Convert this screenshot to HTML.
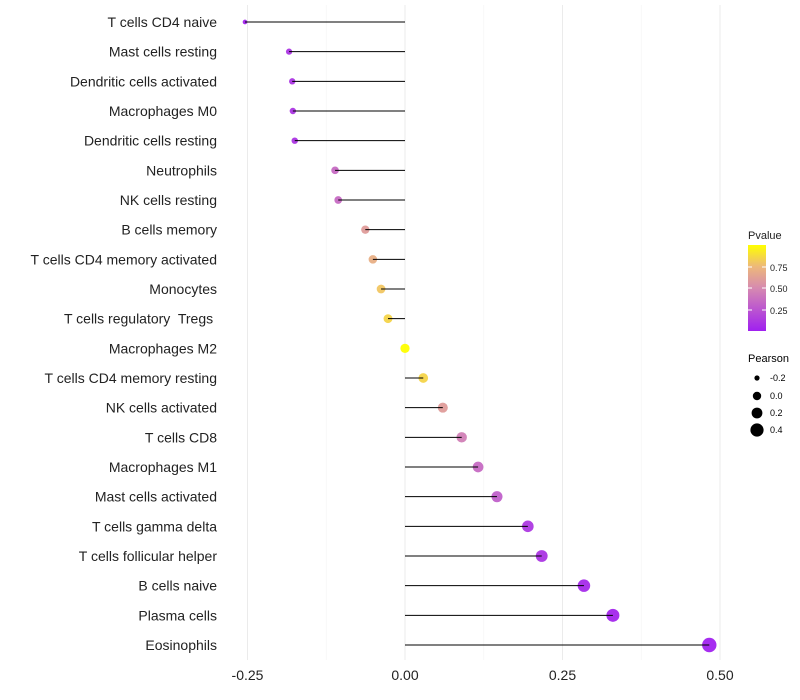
<!DOCTYPE html>
<html><head><meta charset="utf-8"><style>
body{margin:0;background:#fff;font-family:"Liberation Sans",sans-serif}
svg{display:block}
text{white-space:pre}
</style></head><body>
<svg id="c" width="800" height="700">
<defs><linearGradient id="pg" x1="0" y1="1" x2="0" y2="0">
<stop offset="0" stop-color="#A020F0"/><stop offset="0.5" stop-color="#D68AB0"/><stop offset="0.75" stop-color="#EDB87A"/><stop offset="1" stop-color="#FFFF00"/></linearGradient></defs>
<g id="grid"></g><g id="dots"></g><g id="stems"></g><g id="labels"></g>
<g font-size="10" fill="#222">
<text x="748" y="239" font-size="11">Pvalue</text>
<rect x="748" y="245" width="18" height="86" fill="url(#pg)"/>
<line x1="748" y1="267" x2="752" y2="267" stroke="#fff"/><line x1="762" y1="267" x2="766" y2="267" stroke="#fff"/>
<line x1="748" y1="288" x2="752" y2="288" stroke="#fff"/><line x1="762" y1="288" x2="766" y2="288" stroke="#fff"/>
<line x1="748" y1="310" x2="752" y2="310" stroke="#fff"/><line x1="762" y1="310" x2="766" y2="310" stroke="#fff"/>
<text x="770" y="271" font-size="9">0.75</text><text x="770" y="292" font-size="9">0.50</text><text x="770" y="314" font-size="9">0.25</text>
</g>
<g fill="#000">
<text x="748" y="362" font-size="11">Pearson</text>
<circle cx="757" cy="378" r="2.6"/><circle cx="757" cy="396" r="4.2"/><circle cx="757" cy="413" r="5.4"/><circle cx="757" cy="430" r="6.6"/>
<text x="770" y="381" font-size="9">-0.2</text><text x="770" y="399" font-size="9">0.0</text><text x="770" y="416" font-size="9">0.2</text><text x="770" y="433" font-size="9">0.4</text>
</g>
</svg>
<script>
const categories=["T cells CD4 naive","Mast cells resting","Dendritic cells activated","Macrophages M0","Dendritic cells resting","Neutrophils","NK cells resting","B cells memory","T cells CD4 memory activated","Monocytes","T cells regulatory  Tregs ","Macrophages M2","T cells CD4 memory resting","NK cells activated","T cells CD8","Macrophages M1","Mast cells activated","T cells gamma delta","T cells follicular helper","B cells naive","Plasma cells","Eosinophils"];
const pearson=[-0.254,-0.184,-0.179,-0.178,-0.175,-0.111,-0.106,-0.063,-0.051,-0.038,-0.027,0,0.029,0.060,0.090,0.116,0.146,0.195,0.217,0.284,0.330,0.483];
const pvalue=[0.02,0.1,0.1,0.1,0.1,0.35,0.35,0.6,0.7,0.8,0.85,1.0,0.85,0.6,0.45,0.35,0.3,0.12,0.1,0.05,0.03,0.01];
const xticks=[-0.25,0,0.25,0.5];
const xtickLabels=["-0.25","0.00","0.25","0.50"];
const NS="http://www.w3.org/2000/svg";
const xs=v=>405+v*630;
const ys=i=>22+i*(623/21);
const rs=v=>Math.sqrt(Math.max(2,21.4+63*v));
function lerp(a,b,t){return a+(b-a)*t}
const stops=[[0,[160,32,240]],[0.5,[214,138,176]],[0.75,[237,184,122]],[1,[255,255,0]]];
function col(p){for(let k=1;k<stops.length;k++){if(p<=stops[k][0]){const t=(p-stops[k-1][0])/(stops[k][0]-stops[k-1][0]);const a=stops[k-1][1],b=stops[k][1];return `rgb(${Math.round(lerp(a[0],b[0],t))},${Math.round(lerp(a[1],b[1],t))},${Math.round(lerp(a[2],b[2],t))})`;}}return "rgb(255,255,0)";}
function mk(t,attrs,parent){const e=document.createElementNS(NS,t);for(const k in attrs)e.setAttribute(k,attrs[k]);parent.appendChild(e);return e;}
const grid=document.getElementById('grid'),dots=document.getElementById('dots'),stems=document.getElementById('stems'),labels=document.getElementById('labels');
for(let v=-0.375;v<=0.626;v+=0.125){const x=xs(v);if(x<230||x>735)continue;const major=Math.abs(v/0.25-Math.round(v/0.25))<1e-6;
const g=mk('line',{x1:x,x2:x,y1:5,y2:660,stroke:major?'#ebebeb':'#f4f4f4','stroke-width':major?1:0.6},grid);

}
xticks.forEach((v,i)=>{const t=mk('text',{x:xs(v),y:680,'text-anchor':'middle','font-size':14,fill:'#222'},labels);t.textContent=xtickLabels[i];

});
categories.forEach((c,i)=>{const y=ys(i);
const t=mk('text',{x:217,y:y+5,'text-anchor':'end','font-size':14,fill:'#222'},labels);t.textContent=c;


const d=mk('circle',{cx:xs(pearson[i]),cy:y,r:rs(pearson[i]),fill:col(pvalue[i]),'fill-opacity':0.95},dots);


const l=mk('line',{x1:xs(0),x2:xs(pearson[i]),y1:y,y2:y,stroke:'#000','stroke-width':1},stems);

});
</script>
</body></html>
